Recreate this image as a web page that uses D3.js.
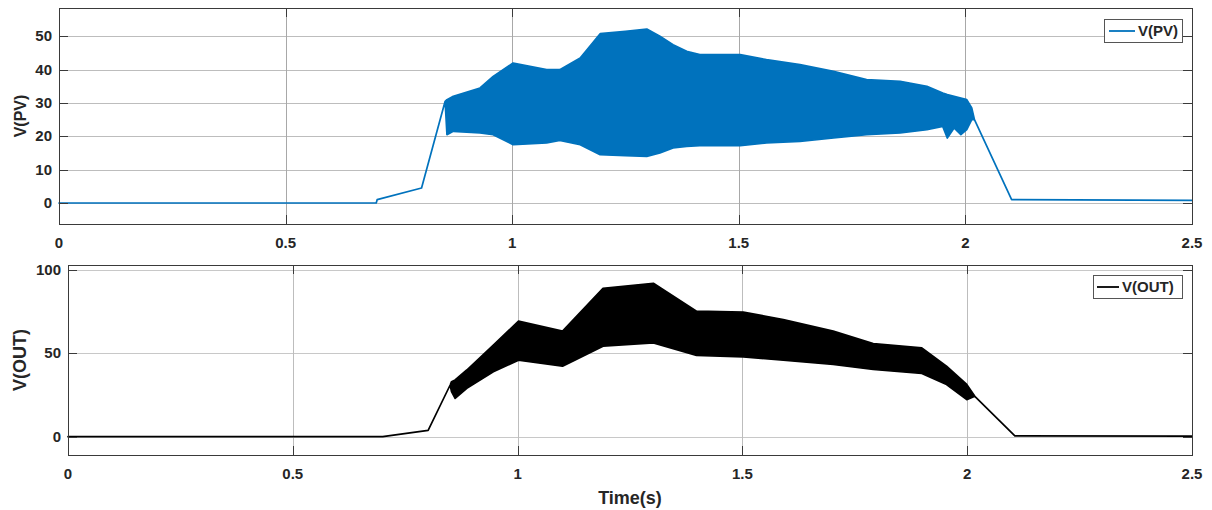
<!DOCTYPE html>
<html>
<head>
<meta charset="utf-8">
<script src="https://cdn.jsdelivr.net/npm/d3@7"></script>
<style>
  html, body { margin: 0; padding: 0; background: #fff; }
  svg { display: block; font-family: "Liberation Sans", Arial, sans-serif; }
</style>
</head>
<body>
<svg id="chart" width="1212" height="510"></svg>
<script>
// ---------------- DATA ----------------
// Top panel: V(PV) — envelope of the fast oscillation (max / min) vs time (s)
const pvTime  = [0, 0.700, 0.702, 0.800, 0.852, 0.856, 0.870, 0.929, 0.958, 1.002, 1.076, 1.105, 1.150, 1.194, 1.250, 1.297, 1.326, 1.355, 1.385, 1.414, 1.503, 1.561, 1.635, 1.709, 1.782, 1.856, 1.915, 1.950, 1.960, 1.975, 1.990, 2.003, 2.014, 2.020, 2.102, 2.500];
const pvUpper = [0, 0, 1.0, 4.5, 30.5, 31, 32, 34.5, 38, 42, 40, 40, 43.5, 50.8, 51.5, 52.2, 50, 47.5, 45.5, 44.5, 44.5, 43, 41.5, 39.5, 37, 36.5, 35, 33, 32.5, 32, 31.5, 31, 28.5, 25, 1.0, 0.8];
const pvLower = [0, 0, 1.0, 4.5, 30.5, 20.5, 21.5, 21, 20.5, 17.5, 18, 18.8, 17.5, 14.5, 14.2, 14, 15, 16.5, 17, 17.2, 17.2, 18, 18.5, 19.5, 20.5, 21, 22, 23, 19.5, 22.5, 20.5, 22, 25, 25, 1.0, 0.8];

// Bottom panel: V(OUT) — envelope (max / min) vs time (s)
const outTime  = [0, 0.700, 0.801, 0.850, 0.853, 0.861, 0.887, 0.946, 1.002, 1.100, 1.190, 1.302, 1.398, 1.502, 1.591, 1.702, 1.791, 1.899, 1.954, 1.999, 2.017, 2.106, 2.500];
const outUpper = [0, 0, 3.8, 31, 33, 34, 40, 55, 69.3, 63.3, 89, 92, 75.3, 74.7, 70.3, 63.3, 55.9, 53.3, 42.3, 31.3, 24.2, 0.5, 0.3];
const outLower = [0, 0, 3.8, 31, 27, 23, 29, 39, 45.9, 42.3, 54.3, 56.3, 48.7, 47.9, 45.9, 43.3, 40.3, 37.9, 31.3, 22.2, 24.2, 0.5, 0.3];

// Axes ticks
const xTicks = [0, 0.5, 1, 1.5, 2, 2.5];
const xTickLabels = ["0", "0.5", "1", "1.5", "2", "2.5"];
const pvYTicks = [0, 10, 20, 30, 40, 50];
const outYTicks = [0, 50, 100];

// Labels
const pvLabel = "V(PV)";
const outLabel = "V(OUT)";
const xLabel = "Time(s)";

// ---------------- DRAWING ----------------
const svg = d3.select("#chart");
const textColor = "#262626";
const axisColor = "#3a3a3a";

function panel(cfg) {
  const x = d3.scaleLinear().domain([0, 2.5]).range([cfg.left, cfg.right]);
  const y = d3.scaleLinear().domain(cfg.yDomain).range([cfg.bottom, cfg.top]);
  const g = svg.append("g");

  // grid
  g.selectAll(".hg").data(cfg.yTicks).enter().append("line")
    .attr("x1", cfg.left).attr("x2", cfg.right)
    .attr("y1", d => Math.round(y(d)) + 0.5).attr("y2", d => Math.round(y(d)) + 0.5)
    .attr("stroke", cfg.gridColor).attr("stroke-width", 1);
  g.selectAll(".vg").data(xTicks.slice(1, -1)).enter().append("line")
    .attr("x1", d => Math.round(x(d)) + 0.5).attr("x2", d => Math.round(x(d)) + 0.5)
    .attr("y1", cfg.top).attr("y2", cfg.bottom)
    .attr("stroke", cfg.vGridColor).attr("stroke-width", 1);

  // data band (envelope)
  const pts = cfg.time.map((t, i) => ({ t, hi: cfg.upper[i], lo: cfg.lower[i] }));
  const area = d3.area().x(d => x(d.t)).y0(d => y(d.lo)).y1(d => y(d.hi));
  g.append("path").datum(pts).attr("d", area)
    .attr("fill", cfg.color).attr("stroke", cfg.color)
    .attr("stroke-width", 1.7).attr("stroke-linejoin", "round");

  // box
  g.append("rect")
    .attr("x", cfg.left + 0.5).attr("y", cfg.top + 0.5)
    .attr("width", cfg.right - cfg.left).attr("height", cfg.bottom - cfg.top)
    .attr("fill", "none").attr("stroke", axisColor).attr("stroke-width", 1);

  // ticks (inward, all sides)
  const tl = 9;
  cfg.yTicks.forEach(v => {
    const yy = Math.round(y(v)) + 0.5;
    g.append("line").attr("x1", cfg.left).attr("x2", cfg.left + tl).attr("y1", yy).attr("y2", yy).attr("stroke", axisColor);
    g.append("line").attr("x1", cfg.right).attr("x2", cfg.right - tl).attr("y1", yy).attr("y2", yy).attr("stroke", axisColor);
  });
  xTicks.forEach(v => {
    const xx = Math.round(x(v)) + 0.5;
    g.append("line").attr("x1", xx).attr("x2", xx).attr("y1", cfg.bottom).attr("y2", cfg.bottom - tl).attr("stroke", axisColor);
    g.append("line").attr("x1", xx).attr("x2", xx).attr("y1", cfg.top).attr("y2", cfg.top + tl).attr("stroke", axisColor);
  });

  // tick labels
  g.selectAll(".yl").data(cfg.yTicks).enter().append("text")
    .attr("x", cfg.left - 7).attr("y", d => y(d) + 5)
    .attr("text-anchor", "end").attr("font-size", 15).attr("font-weight", "bold")
    .attr("fill", textColor).text(d => d);
  g.selectAll(".xl").data(xTicks).enter().append("text")
    .attr("x", d => x(d)).attr("y", cfg.bottom + 24)
    .attr("text-anchor", "middle").attr("font-size", 15).attr("font-weight", "bold")
    .attr("fill", textColor).text((d, i) => xTickLabels[i]);

  // y label
  g.append("text")
    .attr("transform", `translate(${cfg.yLabelX},${(cfg.top + cfg.bottom) / 2}) rotate(-90)`)
    .attr("text-anchor", "middle").attr("dominant-baseline", "central")
    .attr("font-size", cfg.yLabelSize).attr("font-weight", "bold")
    .attr("fill", textColor).text(cfg.label);

  // legend
  const lg = cfg.legend;
  g.append("rect").attr("x", lg.x + 0.5).attr("y", lg.y + 0.5).attr("width", lg.w).attr("height", lg.h)
    .attr("fill", "#fff").attr("stroke", "#555").attr("stroke-width", 1);
  g.append("line").attr("x1", lg.x + lg.lineX0).attr("x2", lg.x + lg.lineX1)
    .attr("y1", lg.y + lg.h / 2 + 0.5).attr("y2", lg.y + lg.h / 2 + 0.5)
    .attr("stroke", cfg.color).attr("stroke-width", 1.8);
  g.append("text").attr("x", lg.x + lg.textX).attr("y", lg.y + lg.h / 2 + 5.5)
    .attr("font-size", 15).attr("font-weight", "bold").attr("fill", textColor).text(cfg.label);

  return { x, y };
}

panel({
  left: 59, right: 1192, top: 8, bottom: 224,
  yDomain: [-6.3, 58.5], yTicks: pvYTicks,
  time: pvTime, upper: pvUpper, lower: pvLower,
  color: "#0072bd", gridColor: "#bdbdbd", vGridColor: "#a8a8a8",
  label: pvLabel, yLabelX: 20, yLabelSize: 16,
  legend: { x: 1104, y: 19, w: 78, h: 23, lineX0: 5, lineX1: 31, textX: 34 }
});

panel({
  left: 68, right: 1192, top: 265, bottom: 455,
  yDomain: [-11, 103], yTicks: outYTicks,
  time: outTime, upper: outUpper, lower: outLower,
  color: "#000000", gridColor: "#c8c8c8", vGridColor: "#bdbdbd",
  label: outLabel, yLabelX: 20, yLabelSize: 18,
  legend: { x: 1093, y: 275, w: 89, h: 23, lineX0: 4, lineX1: 26, textX: 29 }
});

svg.append("text").attr("x", 630).attr("y", 504)
  .attr("text-anchor", "middle").attr("font-size", 18).attr("font-weight", "bold")
  .attr("fill", textColor).text(xLabel);
</script>
</body>
</html>
